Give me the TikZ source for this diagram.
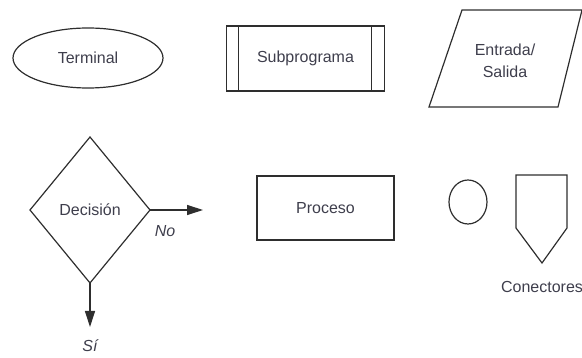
\documentclass[tikz,border=0pt]{standalone}
\usepackage{fontspec}
\setmainfont{Liberation Sans}
\usetikzlibrary{shapes.geometric,arrows.meta}
\definecolor{ink}{HTML}{2E2E2E}
\definecolor{txt}{HTML}{3E3E4C}
\begin{document}
\begin{tikzpicture}[x=1pt, y=-1pt, line width=1.2pt, draw=ink,
    lbl/.style={text=txt, font=\fontsize{16}{22}\selectfont, inner sep=0pt, outer sep=0pt},
    shp/.style={lbl, draw=ink},
    arr/.style={ink, -{Triangle[length=16pt,width=10pt]}}]
    \useasboundingbox (0,0) rectangle (582,358);
    % Row 1: terminal, subprogram, input/output
    \node[shp, ellipse, minimum width=150pt, minimum height=60pt] (term) at (88,58) {Terminal};
    \node[shp, rectangle, minimum width=158pt, minimum height=65pt] (sub) at (305.5,58.5) {Subprograma};
    \foreach \s in {12,-13} {
        \draw ([xshift=\s pt]sub.north \ifnum\s>0 west\else east\fi) -- ([xshift=\s pt]sub.south \ifnum\s>0 west\else east\fi);
    }
    \draw (462,10) -- (582,10) -- (558,107) -- (429,107) -- cycle;
    \node[lbl, align=center] (io) at (505,61) {Entrada/\\Salida};
    % Row 2: decision with its two exits
    \node[shp, diamond, minimum width=120pt, minimum height=146pt] (dec) at (90,210) {Decisión};
    \coordinate (noend) at (203,210);
    \coordinate (siend) at (90,327);
    \draw[arr] (dec.east) -- (noend);
    \draw[arr] (dec.south) -- (siend);
    \node[lbl, font=\fontsize{16}{22}\selectfont\itshape] (no) at (165,231) {No};
    \node[lbl, font=\fontsize{16}{22}\selectfont\itshape] (si) at (90,346) {Sí};
    \node[shp, rectangle, minimum width=137pt, minimum height=64pt] (proc) at (325.5,208) {Proceso};
    % Connectors
    \node[shp, ellipse, minimum width=38pt, minimum height=44pt] (con) at (468,202) {};
    \draw (516,175) -- (567,175) -- (567,228) -- (542,263) -- (516,228) -- cycle;
    \node[lbl] (conlbl) at (542,287) {Conectores};
\end{tikzpicture}
\end{document}
